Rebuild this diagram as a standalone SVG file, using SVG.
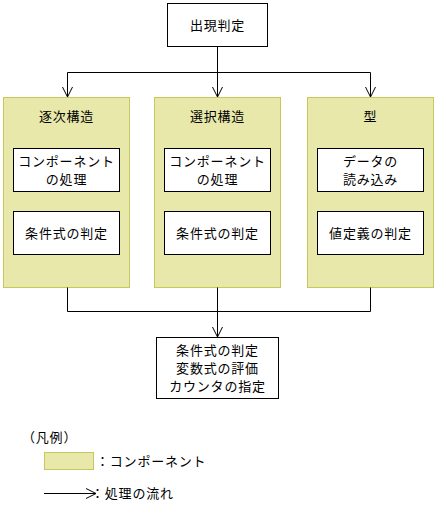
<svg xmlns="http://www.w3.org/2000/svg" width="437" height="509" viewBox="0 0 437 509">
<defs>
<marker id="v" markerWidth="12" markerHeight="12" refX="11" refY="6" orient="auto" markerUnits="userSpaceOnUse" viewBox="0 0 12 12">
<path d="M1,1 L11,6 L1,11" fill="none" stroke="#000" stroke-width="1"/>
</marker>
<style>
text{font-family:"Noto Sans CJK JP","Noto Sans CJK SC",sans-serif;font-size:13px;letter-spacing:0.8px;fill:#000;text-anchor:middle;}
.panel{fill:#E8E8AA;stroke:#C8C85A;stroke-width:1;}
.box{fill:#fff;stroke:#000;stroke-width:1;}
.c{fill:none;stroke:#000;stroke-width:1;}
</style>
</defs>
<rect width="437" height="509" fill="#fff"/>
<g id="top"><rect class="box" x="167.5" y="3.5" width="100" height="43"/><text x="217.5" y="30">出現判定</text></g>
<g id="panel1"><rect class="panel" x="3.5" y="97.5" width="126" height="190"/><text x="66.5" y="121">逐次構造</text>
<g id="p1b1"><rect class="box" x="13.5" y="148.5" width="106" height="43"/><text x="66.5" y="166">コンポーネント</text><text x="66.5" y="184">の処理</text></g>
<g id="p1b2"><rect class="box" x="13.5" y="211.5" width="106" height="43"/><text x="66.5" y="238">条件式の判定</text></g></g>
<g id="panel2"><rect class="panel" x="154.5" y="97.5" width="126" height="190"/><text x="217.5" y="121">選択構造</text>
<g id="p2b1"><rect class="box" x="164.5" y="148.5" width="106" height="43"/><text x="217.5" y="166">コンポーネント</text><text x="217.5" y="184">の処理</text></g>
<g id="p2b2"><rect class="box" x="164.5" y="211.5" width="106" height="43"/><text x="217.5" y="238">条件式の判定</text></g></g>
<g id="panel3"><rect class="panel" x="307.5" y="97.5" width="126" height="190"/><text x="370.5" y="121">型</text>
<g id="p3b1"><rect class="box" x="317.5" y="148.5" width="106" height="43"/><text x="370.5" y="166">データの</text><text x="370.5" y="184">読み込み</text></g>
<g id="p3b2"><rect class="box" x="317.5" y="211.5" width="106" height="43"/><text x="370.5" y="238">値定義の判定</text></g></g>
<g id="bottom"><rect class="box" x="156.5" y="337.5" width="122" height="61"/><text x="217.5" y="355">条件式の判定</text><text x="217.5" y="373">変数式の評価</text><text x="217.5" y="391">カウンタの指定</text></g>
<g id="connectors">
<path class="c" d="M217.5,46.5 V97"/>
<path class="c" d="M67.5,72.5 H370.5"/>
<path class="c" d="M67.5,72.5 V97" marker-end="url(#v)"/>
<path class="c" d="M217.5,72.5 V97" marker-end="url(#v)"/>
<path class="c" d="M370.5,72.5 V97" marker-end="url(#v)"/>
<path class="c" d="M67.5,287.5 V311.5 H370.5 V287.5"/>
<path class="c" d="M217.5,287.5 V337" marker-end="url(#v)"/>
</g>
<g id="legend">
<text x="22" y="442" style="text-anchor:start">（凡例）</text>
<rect class="panel" x="44.5" y="452.5" width="49" height="17"/>
<text x="96" y="466" style="text-anchor:start">：コンポーネント</text>
<path class="c" d="M44,493.5 H96" marker-end="url(#v)"/>
<text x="91" y="498" style="text-anchor:start">：処理の流れ</text>
</g>
</svg>
